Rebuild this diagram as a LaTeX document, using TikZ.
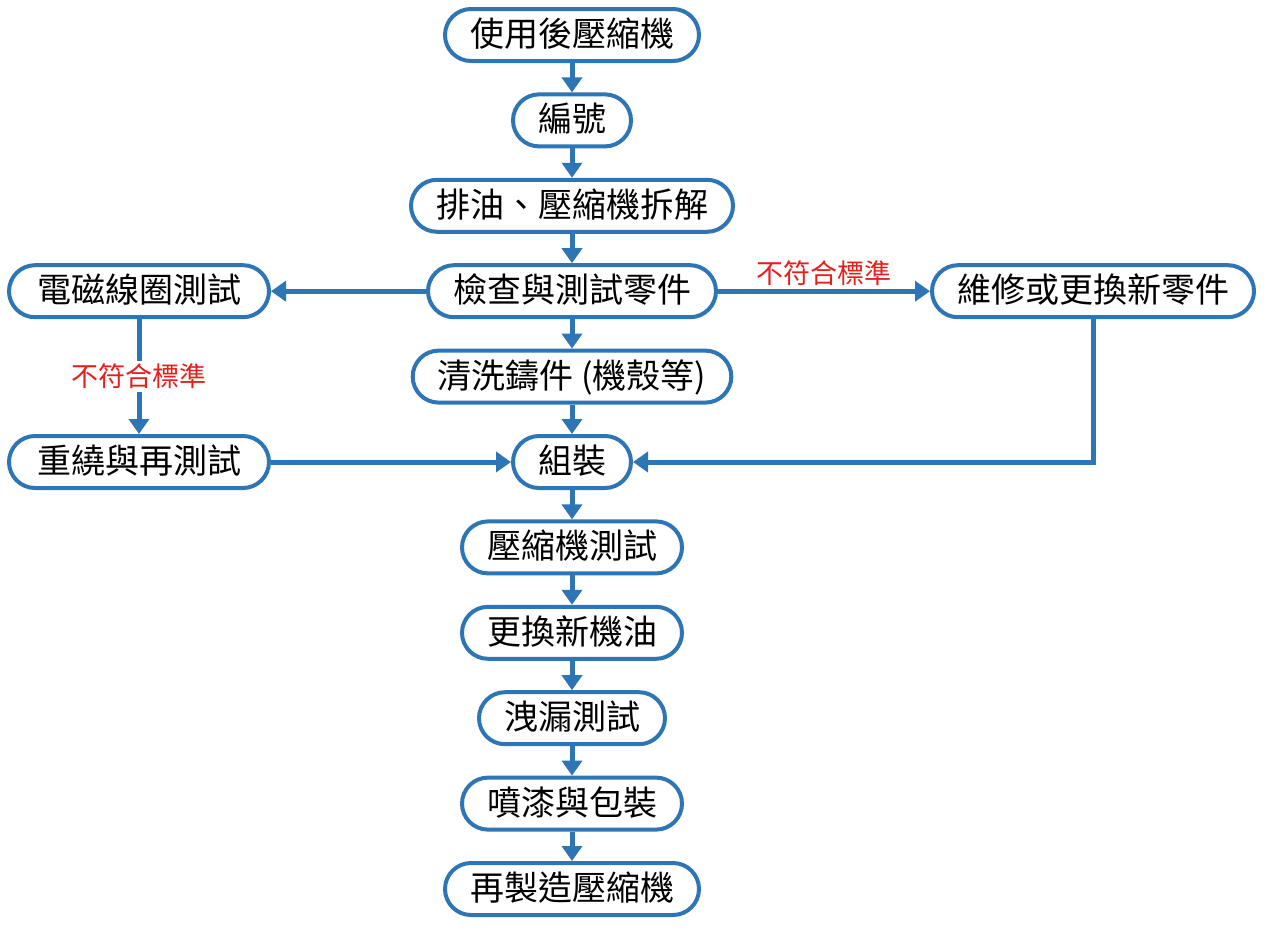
\documentclass[tikz,border=0pt]{standalone}
\usepackage{fontspec}
\usepackage{xcolor}
\usepackage{tikz}
\usetikzlibrary{positioning,arrows.meta}
\newfontfamily\cjk{Noto Sans CJK TC}
\definecolor{flowblue}{HTML}{2E75B6}
\definecolor{failred}{HTML}{E3201C}

\begin{document}
\begin{tikzpicture}[node distance=29.4pt,>={Triangle[width=20pt,length=15pt]},
  stepbox/.style={draw=flowblue,line width=4pt,fill=white,rectangle,rounded corners=26pt,
    minimum height=52pt,inner xsep=25pt,inner ysep=2pt,text height=24pt,text depth=1pt,
    font=\cjk\fontsize{34}{40}\selectfont},
  flow/.style={->,draw=flowblue,line width=5pt},
  redlabel/.style={text=failred,font=\cjk\fontsize{27}{32}\selectfont}]
  \useasboundingbox (0,0) rectangle (1268pt,-932pt);
  % main column, top to bottom
  \node[stepbox] (used) at (572pt,-35pt) {使用後壓縮機};
  \node[stepbox] (number) [below=of used] {編號};
  \node[stepbox] (drain) [below=of number] {排油、壓縮機拆解};
  \node[stepbox] (check) [below=of drain] {檢查與測試零件};
  \node[stepbox] (clean) [below=of check] {清洗鑄件 (機殼等)};
  \node[stepbox] (assemble) [below=of clean] {組裝};
  \node[stepbox] (comptest) [below=of assemble] {壓縮機測試};
  \node[stepbox] (oil) [below=of comptest] {更換新機油};
  \node[stepbox] (leak) [below=of oil] {洩漏測試};
  \node[stepbox] (paint) [below=of leak] {噴漆與包裝};
  \node[stepbox] (reman) [below=of paint] {再製造壓縮機};
  % side branches
  \node[stepbox,minimum width=260pt] (coil) [left=155pt of check] {電磁線圈測試};
  \node[stepbox] (repair) [right=212pt of check] {維修或更換新零件};
  \node[stepbox,minimum width=260pt] (rewind) at (coil |- assemble) {重繞與再測試};

  \draw[flow] (used) -- (number);
  \draw[flow] (number) -- (drain);
  \draw[flow] (drain) -- (check);
  \draw[flow] (check) -- (clean);
  \draw[flow] (clean) -- (assemble);
  \draw[flow] (assemble) -- (comptest);
  \draw[flow] (comptest) -- (oil);
  \draw[flow] (oil) -- (leak);
  \draw[flow] (leak) -- (paint);
  \draw[flow] (paint) -- (reman);

  \draw[flow] (check) -- (coil);
  \draw[flow] (check) -- node[redlabel,above] {不符合標準} (repair);
  \draw[flow] (coil) -- node[redlabel,fill=white] {不符合標準} (rewind);
  \draw[flow] (rewind) -- (assemble);
  \draw[flow] (repair.south) |- (assemble.east);
\end{tikzpicture}
\end{document}
